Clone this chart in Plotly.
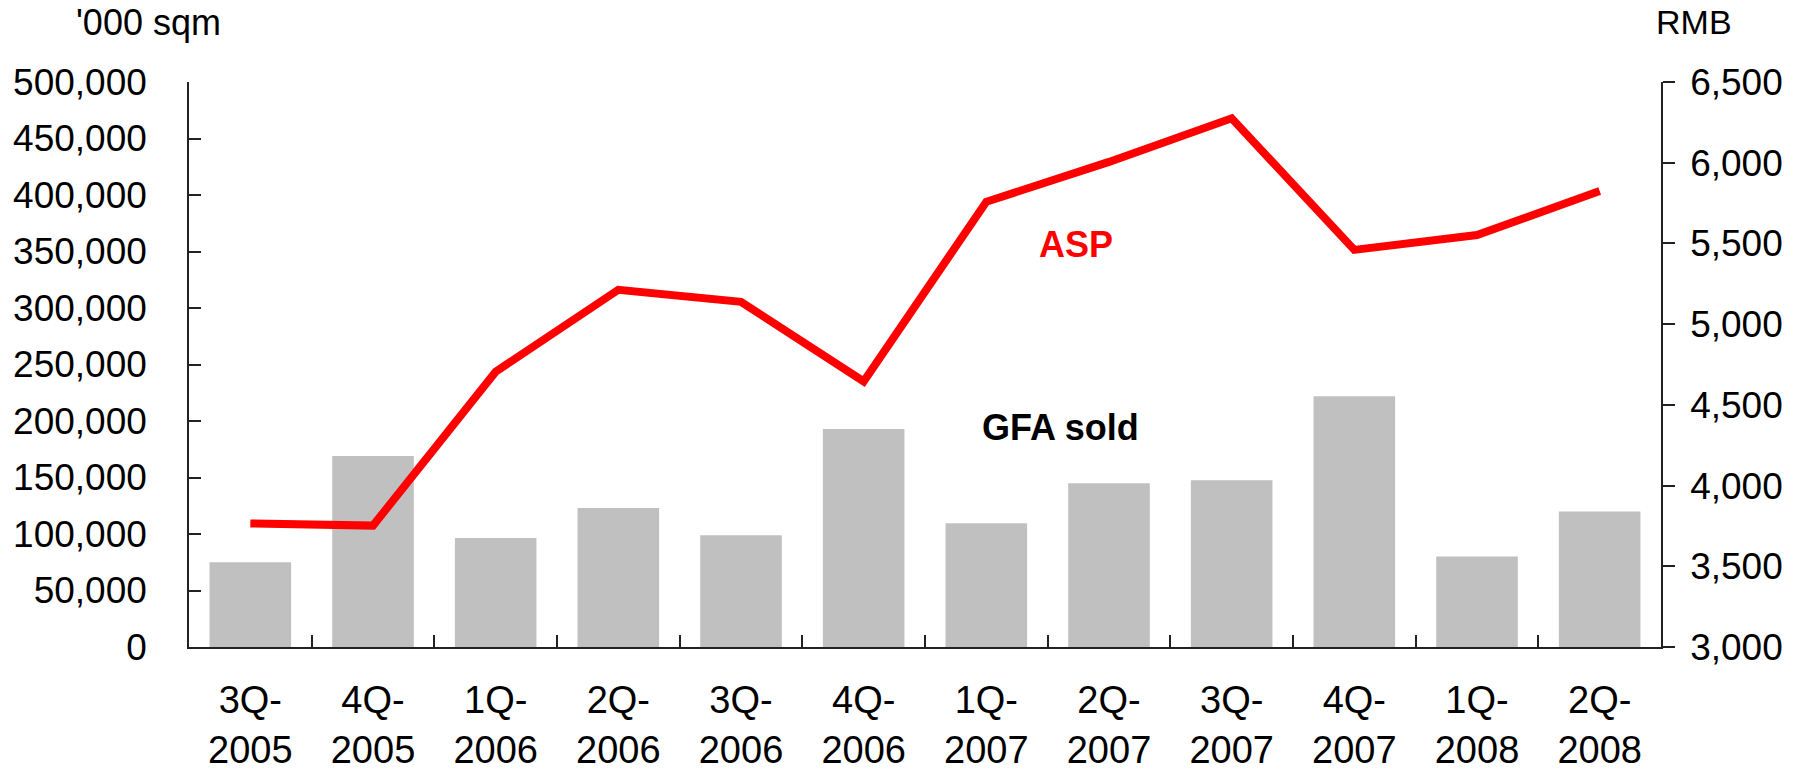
import plotly.graph_objects as go

# Quarterly sales data
quarters = ["3Q-<br>2005", "4Q-<br>2005", "1Q-<br>2006", "2Q-<br>2006", "3Q-<br>2006", "4Q-<br>2006",
            "1Q-<br>2007", "2Q-<br>2007", "3Q-<br>2007", "4Q-<br>2007", "1Q-<br>2008", "2Q-<br>2008"]
gfa_sold = [75000, 169000, 96500, 123000, 99000, 193000, 109500, 145000, 147500, 222000, 80000, 120000]
asp_rmb = [3765, 3752, 4705, 5213, 5138, 4645, 5758, 6005, 6275, 5460, 5552, 5825]

FONT = "Arial, Liberation Sans, sans-serif"
AXIS_COLOR = "#222222"

fig = go.Figure()

fig.add_trace(go.Bar(
    x=quarters, y=gfa_sold, name="GFA sold",
    marker=dict(color="#C0C0C0", line=dict(width=0)),
    yaxis="y",
))

fig.add_trace(go.Scatter(
    x=quarters, y=asp_rmb, name="ASP", mode="lines",
    line=dict(color="#FF0000", width=8),
    yaxis="y2",
))

fig.update_layout(
    width=1804, height=772,
    margin=dict(l=189, r=143, t=82, b=125, autoexpand=False),
    paper_bgcolor="white", plot_bgcolor="white",
    showlegend=False,
    bargap=0.335,
    font=dict(family=FONT, size=37, color="black"),
    xaxis=dict(
        type="category",
        showline=True, linecolor=AXIS_COLOR, linewidth=1.5,
        ticks="inside", ticklen=12, tickwidth=1.5, tickcolor=AXIS_COLOR,
        tickson="boundaries",
        showgrid=False, zeroline=False,
        tickfont=dict(family=FONT, size=38, color="black"),
        ticklabelstandoff=19,
    ),
    yaxis=dict(
        range=[0, 500000], dtick=50000, tickformat=",",
        showline=True, linecolor=AXIS_COLOR, linewidth=1.5,
        ticks="inside", ticklen=12, tickwidth=1.5, tickcolor=AXIS_COLOR,
        showgrid=False, zeroline=False,
        tickfont=dict(family=FONT, size=37, color="black"),
        ticklabelstandoff=33,
    ),
    yaxis2=dict(
        range=[3000, 6500], dtick=500, tickformat=",",
        overlaying="y", side="right",
        showline=True, linecolor=AXIS_COLOR, linewidth=1.5,
        ticks="outside", ticklen=12, tickwidth=1.5, tickcolor=AXIS_COLOR,
        showgrid=False, zeroline=False,
        tickfont=dict(family=FONT, size=37, color="black"),
        ticklabelstandoff=8,
    ),
    annotations=[
        dict(text="ASP", x=0.6028, y=0.7131, xref="paper", yref="paper",
             showarrow=False, xanchor="center", yanchor="middle",
             font=dict(family=FONT, size=36, color="#FF0000", weight="bold")),
        dict(text="GFA sold", x=0.5919, y=0.389, xref="paper", yref="paper",
             showarrow=False, xanchor="center", yanchor="middle",
             font=dict(family=FONT, size=36, color="black", weight="bold")),
        dict(text="'000 sqm", x=-0.0276, y=1.106, xref="paper", yref="paper",
             showarrow=False, xanchor="center", yanchor="middle",
             font=dict(family=FONT, size=36, color="black")),
        dict(text="RMB", x=1.0226, y=1.106, xref="paper", yref="paper",
             showarrow=False, xanchor="center", yanchor="middle",
             font=dict(family=FONT, size=34, color="black")),
    ],
)

fig.write_html("out.html")
